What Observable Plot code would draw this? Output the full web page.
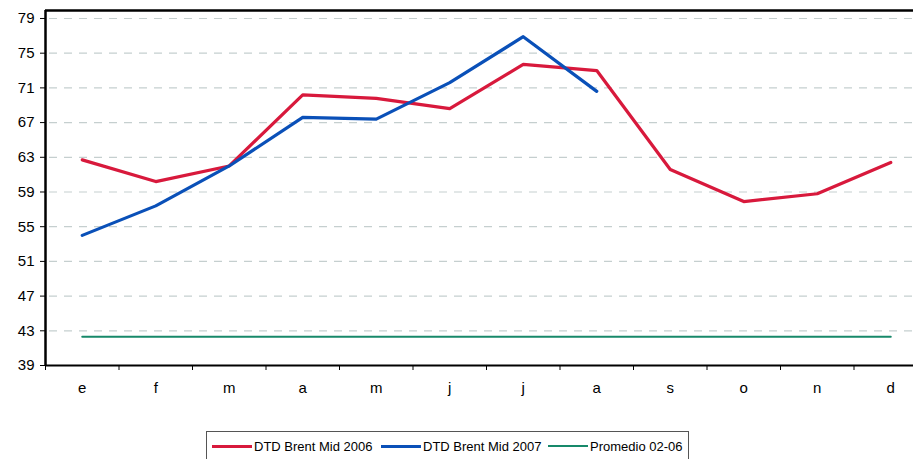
<!DOCTYPE html>
<html><head><meta charset="utf-8">
<script src="https://cdn.jsdelivr.net/npm/d3@7"></script>
<script src="https://cdn.jsdelivr.net/npm/@observablehq/plot@0.6"></script>
<style>
body{margin:0;background:#fff;font-family:"Liberation Sans",Arial,sans-serif;}
#wrap{position:relative;width:913px;height:459px;overflow:hidden;}
#legend{position:absolute;left:206px;top:431px;width:483px;height:34px;border:1px solid #555;box-sizing:border-box;font-size:13px;color:#000;}
.item{position:absolute;top:6px;display:flex;align-items:center;height:16px;}
.sw{width:40px;margin-right:2px;}
</style></head>
<body><div id="wrap"><div id="chart"></div><div id="legend"></div></div>
<script>
const months = ["e","f","m","a","m","j","j","a","s","o","n","d"];
const brent2006 = [62.7,60.2,62.0,70.2,69.8,68.6,73.7,73.0,61.6,57.9,58.8,62.4];
const brent2007 = [54.0,57.4,62.0,67.6,67.4,71.6,76.9,70.6];
const promedio = 42.3;
const yTicks = [39,43,47,51,55,59,63,67,71,75,79];
const seriesNames = ["DTD Brent Mid 2006","DTD Brent Mid 2007","Promedio 02-06"];
const colors = ["#d8193c","#0a50b8","#17896a"];

const d06 = brent2006.map((v,i)=>({i,v}));
const d07 = brent2007.map((v,i)=>({i,v}));
const dProm = months.map((m,i)=>({i,v:promedio}));
const bounds = d3.range(-0.5, 12, 1);

const H = 425;
const chart = Plot.plot({
  width: 913, height: H,
  marginTop: 10, marginBottom: H-365, marginLeft: 45, marginRight: 0,
  style:{fontFamily:'"Liberation Sans",Arial,sans-serif', color:"#000", background:"#fff"},
  x:{type:"linear", domain:[-0.5,11.5], range:[45,927], label:null},
  y:{domain:[39,79.92], range:[365,10], label:null},
  marks:[
    Plot.ruleY(yTicks.slice(1), {stroke:"#c5cfcf", strokeWidth:1.2, strokeDasharray:"8,7", strokeDashoffset:-4}),
    Plot.ruleY([79.92], {stroke:"#000", strokeWidth:2.5}),
    Plot.line(dProm, {x:"i", y:"v", stroke:colors[2], strokeWidth:2}),
    Plot.line(d06, {x:"i", y:"v", stroke:colors[0], strokeWidth:3.2}),
    Plot.line(d07, {x:"i", y:"v", stroke:colors[1], strokeWidth:3.2}),
    Plot.ruleY([39], {stroke:"#000", strokeWidth:2}),
    Plot.ruleX([-0.5], {stroke:"#000", strokeWidth:2.5}),
    Plot.axisY({ticks:yTicks, tickSize:5, tickPadding:6, fontSize:15, stroke:"#000", strokeWidth:1, label:null}),
    Plot.axisX({ticks:d3.range(12), tickSize:0, tickPadding:17, fontSize:15, tickFormat:i=>months[i], label:null}),
    Plot.axisX({ticks:bounds, tickSize:5, tickFormat:()=>"", stroke:"#000", label:null})
  ]
});
document.getElementById("chart").appendChild(chart);

const lg = document.getElementById("legend");
const lefts = [5, 174, 341];
seriesNames.forEach((n,k)=>{
  const it = document.createElement("div");
  it.className="item"; it.style.left = lefts[k]+"px";
  const sw = document.createElement("div");
  sw.className="sw"; sw.style.borderTop = (k<2?3:2)+"px solid "+colors[k];
  it.appendChild(sw);
  const t = document.createElement("span"); t.textContent = n;
  it.appendChild(t);
  lg.appendChild(it);
});
</script></body></html>
